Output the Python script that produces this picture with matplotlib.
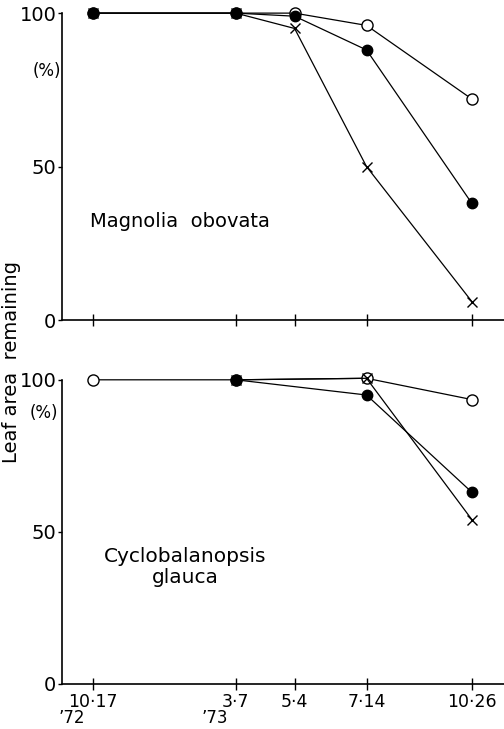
import matplotlib.pyplot as plt
import matplotlib.transforms as mtransforms

plt.rcParams['font.family'] = ['DejaVu Sans']

# sampling dates, as days after 1972-10-17
days = [0, 141, 199, 270, 374]
date_labels = ['10·17', '3·7', '5·4', '7·14', '10·26']
year_labels = {0: '’72', 141: '’73'}

# Magnolia obovata (top)
mag_open = [100, 100, 100, 96, 72]
mag_filled = [100, 100, 99, 88, 38]
mag_cross = [100, 100, 95, 50, 6]

# Cyclobalanopsis glauca (bottom), no sample on 5·4
cyc_days = [0, 141, 270, 374]
cyc_open = [100, 100, 100.5, 93.5]
cyc_filled_days = [141, 270, 374]
cyc_filled = [100, 95, 63]
cyc_cross_days = [141, 270, 374]
cyc_cross = [100, 100.5, 54]


def style_axes(ax):
    ax.set_xlim(-30.6, 405.7)
    ax.set_ylim(0, 100)
    ax.spines['top'].set_visible(False)
    ax.spines['right'].set_visible(False)
    ax.spines['left'].set_linewidth(1.2)
    ax.spines['bottom'].set_linewidth(1.2)
    ax.set_yticks([0, 50, 100])
    ax.set_yticklabels(['0', '50', '100'], fontsize=14)
    ax.tick_params(axis='y', direction='out', length=3, width=1, pad=1)
    ax.set_xticks(days)
    ax.tick_params(axis='x', direction='inout', length=9, width=1)


def draw(ax, x, y, kind):
    if kind == 'open':
        ax.plot(x, y, color='black', lw=0.9, marker='o', ms=8,
                mfc='white', mec='black', mew=1.0, clip_on=False, zorder=3)
    elif kind == 'filled':
        ax.plot(x, y, color='black', lw=0.9, marker='o', ms=7.5,
                mfc='black', mec='black', clip_on=False, zorder=4)
    else:
        ax.plot(x, y, color='black', lw=0.9, marker='x', ms=7,
                mew=1.0, clip_on=False, zorder=5)


fig = plt.figure(figsize=(5.04, 7.29), dpi=100)
ax1 = fig.add_axes([0.123, 0.561, 0.877, 0.421])
ax2 = fig.add_axes([0.123, 0.062, 0.877, 0.417])

style_axes(ax1)
ax1.set_xticklabels([])
draw(ax1, days, mag_cross, 'cross')
draw(ax1, days, mag_filled, 'filled')
draw(ax1, days, mag_open, 'open')
ax1.text(0.063, 0.32, 'Magnolia  obovata', transform=ax1.transAxes,
         fontsize=14, va='center', ha='left')
ax1.text(-0.034, 0.81, '(%)', transform=ax1.transAxes, fontsize=12,
         va='center', ha='center')

style_axes(ax2)
ax2.set_xticklabels(date_labels, fontsize=12.5)
ax2.tick_params(axis='x', pad=2)
draw(ax2, cyc_cross_days, cyc_cross, 'cross')
draw(ax2, cyc_filled_days, cyc_filled, 'filled')
draw(ax2, cyc_days, cyc_open, 'open')
ax2.text(0.278, 0.385, 'Cyclobalanopsis\nglauca', transform=ax2.transAxes,
         fontsize=14.5, va='center', ha='center', linespacing=1.1)
ax2.text(-0.04, 0.89, '(%)', transform=ax2.transAxes, fontsize=12,
         va='center', ha='center')

trans = mtransforms.blended_transform_factory(ax2.transData, ax2.transAxes)
for d, lab in year_labels.items():
    ax2.text(d - 21, -0.112, lab, transform=trans, fontsize=12,
             ha='center', va='center')

fig.text(0.022, 1 - 362 / 729, 'Leaf area  remaining', rotation=90,
         fontsize=14, ha='center', va='center')

fig.savefig('out.png', dpi=100)
